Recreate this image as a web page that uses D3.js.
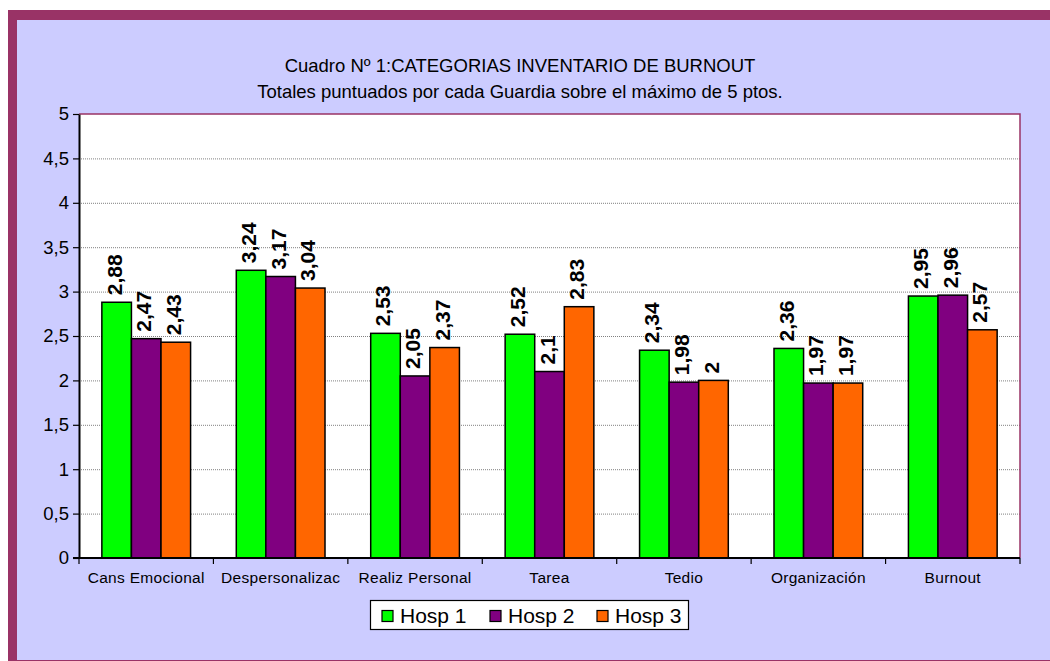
<!DOCTYPE html>
<html><head><meta charset="utf-8">
<script src="https://cdn.jsdelivr.net/npm/d3@7"></script>
<style>body{margin:0;background:#fff;}svg{display:block;font-family:"Liberation Sans",Arial,sans-serif;}</style>
</head><body><svg id="c" width="1050" height="661"></svg>
<script>
const categories = ["Cans Emocional","Despersonalizac","Realiz Personal","Tarea","Tedio","Organización","Burnout"];
const seriesNames = ["Hosp 1","Hosp 2","Hosp 3"];
const hosp1 = [2.88,3.24,2.53,2.52,2.34,2.36,2.95];
const hosp2 = [2.47,3.17,2.05,2.10,1.98,1.97,2.96];
const hosp3 = [2.43,3.04,2.37,2.83,2.00,1.97,2.57];
const colors = ["#00FF00","#800080","#FF6600"];
const yTicks = [0,0.5,1,1.5,2,2.5,3,3.5,4,4.5,5];
const title1 = "Cuadro Nº 1:CATEGORIAS INVENTARIO DE BURNOUT";
const title2 = "Totales puntuados por cada Guardia sobre el máximo de 5 ptos.";

const svg = d3.select("#c");
const fmt = v => String(v).replace(".", ",");
svg.append("rect").attr("x",8).attr("y",10).attr("width",1042).attr("height",651).attr("fill","#993366");
svg.append("rect").attr("x",17).attr("y",20).attr("width",1033).attr("height",640).attr("fill","#CCCCFF");

const L=79,R=1020,T=114,B=558;
const x = d3.scaleBand().domain(categories).range([L,R]).paddingInner(0.34).paddingOuter(0.17);
const xs = d3.scaleBand().domain(seriesNames).range([0,x.bandwidth()]);
const y = d3.scaleLinear().domain([0,5]).range([B,T]);

svg.append("rect").attr("x",L).attr("y",T).attr("width",R-L).attr("height",B-T).attr("fill","#fff");
svg.append("g").selectAll("line").data(yTicks.filter(v=>v>0&&v<5)).join("line")
  .attr("x1",L).attr("x2",R).attr("y1",d=>y(d)+0.5).attr("y2",d=>y(d)+0.5)
  .attr("stroke","#808080").attr("stroke-dasharray","1,1").attr("stroke-width",1);
svg.append("path").attr("d",`M${L},${T}H${R}V${B}`).attr("fill","none").attr("stroke","#993366").attr("stroke-width",1.5);

const data = [hosp1,hosp2,hosp3];
const g = svg.append("g");
categories.forEach((c,i)=>{
  seriesNames.forEach((s,j)=>{
    const v = data[j][i];
    const bx = x(c)+xs(s);
    g.append("rect").attr("x",bx).attr("y",y(v)).attr("width",xs.bandwidth()).attr("height",y(0)-y(v))
      .attr("fill",colors[j]).attr("stroke","#000").attr("stroke-width",1.5);
    const cx = bx+xs.bandwidth()/2+5, ty = y(v)-7;
    g.append("text").attr("transform",`translate(${cx},${ty}) rotate(-90)`)
      .attr("font-size",21).attr("font-weight","bold").attr("fill","#000").attr("text-anchor","start")
      .text(fmt(v));
  });
});

const ya = svg.append("g").attr("transform",`translate(${L},0)`)
  .call(d3.axisLeft(y).tickValues(yTicks).tickSize(6).tickSizeOuter(0).tickFormat(fmt));
ya.select(".domain").attr("stroke","#000").attr("stroke-width",2);
ya.selectAll(".tick line").attr("stroke","#000").attr("stroke-width",1.2);
ya.selectAll("text").attr("font-size",18.5).attr("fill","#000").attr("font-family","Liberation Sans, Arial").attr("x",-10);

const xa = svg.append("g").attr("transform",`translate(0,${B})`);
xa.append("line").attr("x1",L-6).attr("x2",R).attr("y1",0).attr("y2",0).attr("stroke","#000").attr("stroke-width",2);
const bounds = d3.range(categories.length+1).map(i=>L+(R-L)*i/categories.length);
xa.selectAll(".tk").data(bounds).join("line").attr("x1",d=>d).attr("x2",d=>d).attr("y1",0).attr("y2",6)
  .attr("stroke","#000").attr("stroke-width",1.2);
xa.selectAll(".lab").data(categories).join("text")
  .attr("x",d=>x(d)+x.bandwidth()/2).attr("y",25).attr("text-anchor","middle")
  .attr("font-size",15.5).attr("letter-spacing",0.3).attr("fill","#000").text(d=>d);

svg.append("text").attr("x",520).attr("y",72).attr("text-anchor","middle").attr("font-size",18.5).attr("fill","#000").text(title1);
svg.append("text").attr("x",520).attr("y",98).attr("text-anchor","middle").attr("font-size",18.5).attr("fill","#000").text(title2);

const lg = svg.append("g");
lg.append("rect").attr("x",370.5).attr("y",600.5).attr("width",318).attr("height",29).attr("fill","#fff").attr("stroke","#000").attr("stroke-width",1.2);
const lx = [382,490,597];
seriesNames.forEach((s,j)=>{
  lg.append("rect").attr("x",lx[j]).attr("y",610.5).attr("width",11).attr("height",11).attr("fill",colors[j]).attr("stroke","#000").attr("stroke-width",1.2);
  lg.append("text").attr("x",lx[j]+18).attr("y",623).attr("font-size",21).attr("fill","#000").text(s);
});
</script></body></html>
